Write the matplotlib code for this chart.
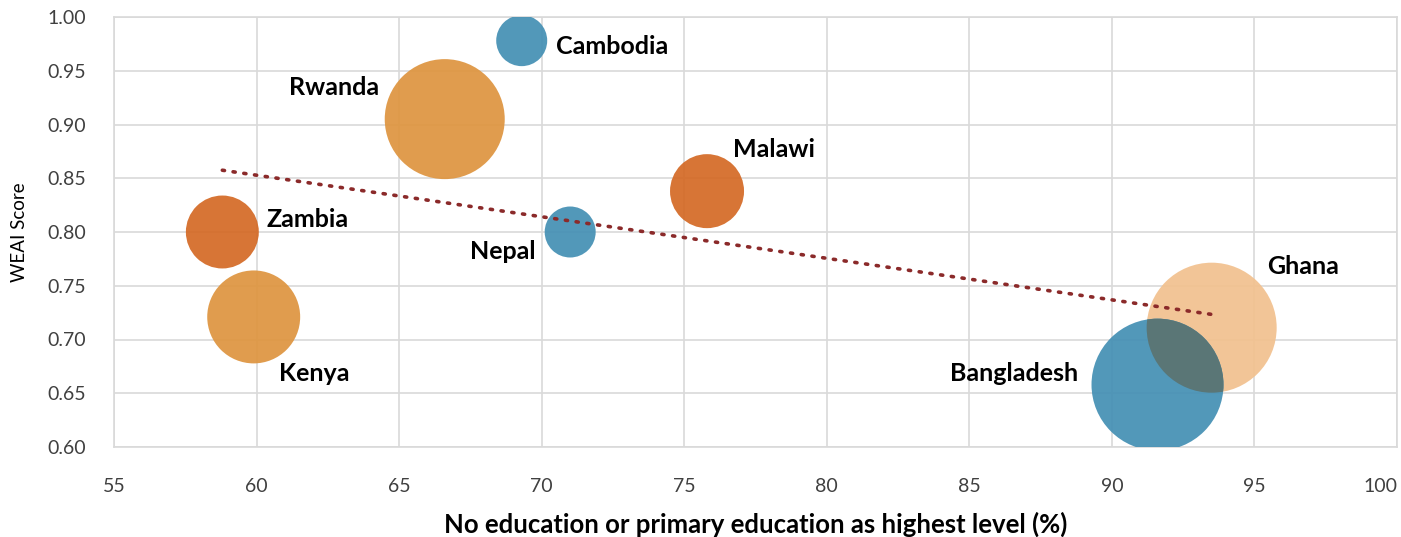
import numpy as np
import matplotlib
matplotlib.use("Agg")
import matplotlib.pyplot as plt
from matplotlib.patches import Circle
from matplotlib.transforms import IdentityTransform

# data
countries = ["Cambodia", "Rwanda", "Malawi", "Zambia", "Nepal", "Kenya", "Ghana", "Bangladesh"]
education = [69.3, 66.6, 75.8, 58.8, 71.0, 59.9, 93.5, 91.6]
weai = [0.978, 0.905, 0.838, 0.800, 0.800, 0.721, 0.711, 0.658]
bubble = [650, 3600, 1369, 1330, 650, 2160, 4225, 4356]   # relative bubble area

colors = ["#4590B4", "#DE9540", "#D46A26", "#D46A26", "#4590B4", "#DE9540", "#F2C18F", "#4590B4"]
# label offsets in points, alignment
label_pos = {
  "Cambodia":   (25, -4, "left"),
  "Rwanda":     (-47, 23, "right"),
  "Malawi":     (19, 30, "left"),
  "Zambia":     (32, 9, "left"),
  "Nepal":      (-25, -14, "right"),
  "Kenya":      (18, -41, "left"),
  "Ghana":      (40, 44, "left"),
  "Bangladesh": (-57, 8, "right"),
}

plt.rcParams['font.family'] = ['Lato', 'DejaVu Sans']

DPI = 100
fig = plt.figure(figsize=(14.01, 5.37), dpi=DPI)
ax = fig.add_axes([114/1401, 1 - 447/537, (1397 - 114)/1401, (447 - 17)/537])

ax.set_xlim(55, 100)
ax.set_ylim(0.60, 1.00)
ax.set_xticks(np.arange(55, 101, 5))
ax.set_yticks(np.arange(0.60, 1.001, 0.05))
ax.set_yticklabels(["%.2f" % v for v in np.arange(0.60, 1.001, 0.05)])

grid_c = "#D9D9D9"
ax.grid(True, color=grid_c, linewidth=1.2)
ax.set_axisbelow(True)
for s in ax.spines.values():
  s.set_color(grid_c)
  s.set_linewidth(1.2)
ax.tick_params(length=0, labelsize=14, labelcolor="#404040")
ax.tick_params(axis="x", pad=22)
ax.tick_params(axis="y", pad=20)
xl = ax.get_xticklabels()
xl[-1].set_horizontalalignment("right")

# bubble radius in pixels -> marker size in pt^2
def msize(a):
  r_pt = np.sqrt(a) * 72 / DPI
  return (2 * r_pt) ** 2

sizes = [msize(a) for a in bubble]
for i in range(len(countries)):
  ax.scatter(education[i], weai[i], s=sizes[i], color=colors[i], alpha=0.93,
             edgecolors="none", zorder=3)

# overlap of Bangladesh and Ghana drawn darker
gi, bi = countries.index("Ghana"), countries.index("Bangladesh")
cx, cy = ax.transData.transform((education[gi], weai[gi]))
clip = Circle((cx, cy), np.sqrt(bubble[gi]), transform=IdentityTransform())
ov = ax.scatter(education[bi], weai[bi], s=sizes[bi], color="#5A7676",
                edgecolors="none", zorder=4)
ov.set_clip_path(clip)

# linear trend line
k, b = np.polyfit(education, weai, 1)
xs = np.array([min(education), max(education)])
ax.plot(xs, k * xs + b, linestyle=(0, (0.6, 2.4)), color="#8B2A2A",
        linewidth=2.6, dash_capstyle="round", zorder=5)

for i, name in enumerate(countries):
  dx, dy, ha = label_pos[name]
  ax.annotate(name, (education[i], weai[i]), xytext=(dx, dy),
              textcoords="offset points", ha=ha, va="center",
              fontsize=18, fontweight="bold", color="black", zorder=6)

ax.set_xlabel("No education or primary education as highest level (%)",
              fontsize=18.5, fontweight="bold", labelpad=12)
ax.set_ylabel("WEAI Score", fontsize=13.5, labelpad=14)

fig.savefig("out.png", dpi=DPI)
